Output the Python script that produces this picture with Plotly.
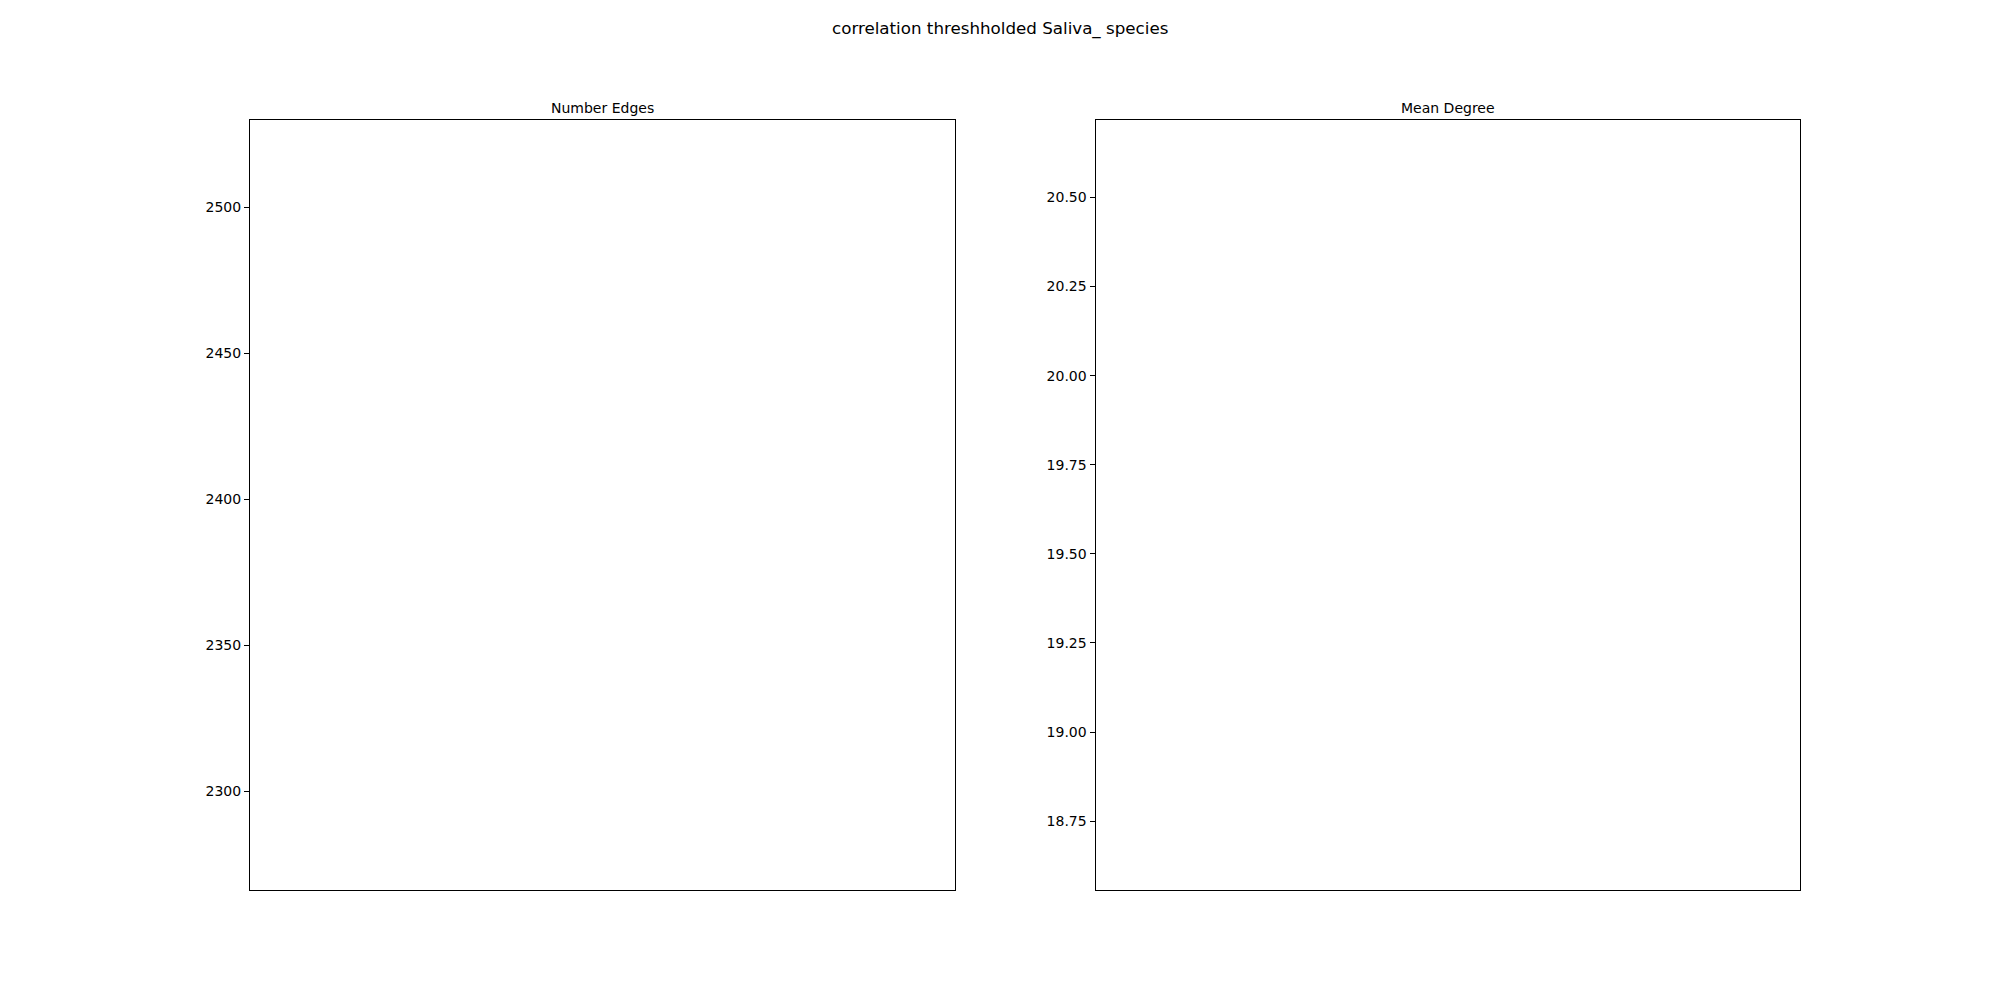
import plotly.graph_objects as go

# Data (single summary values per panel; nothing visible is drawn in the reference)
panel_titles = ["Number Edges", "Mean Degree"]
number_edges = [2398]
mean_degree = [19.637]
suptitle = "correlation threshholded Saliva_ species"

def mpl_range(vals):
    lo, hi = min(vals), max(vals)
    if lo == hi:
        d = 0.05 * abs(lo)
        lo, hi = lo - d, hi + d
    m = 0.05 * (hi - lo)
    return [lo - m, hi + m]

fig = go.Figure()
fig.add_trace(go.Scatter(x=[0] * len(number_edges), y=number_edges, mode="markers",
                         marker=dict(opacity=0), hoverinfo="skip", showlegend=False,
                         xaxis="x", yaxis="y"))
fig.add_trace(go.Scatter(x=[0] * len(mean_degree), y=mean_degree, mode="markers",
                         marker=dict(opacity=0), hoverinfo="skip", showlegend=False,
                         xaxis="x2", yaxis="y2"))

font = "DejaVu Sans"
xcommon = dict(showticklabels=False, ticks="", showgrid=False, zeroline=False,
               showline=True, mirror=True, linecolor="black", linewidth=1,
               range=[-1, 1], fixedrange=True)
ycommon = dict(showgrid=False, zeroline=False, showline=True, mirror=True,
               linecolor="black", linewidth=1, ticks="outside", ticklen=5,
               tickwidth=1, tickcolor="black",
               tickfont=dict(family=font, size=14, color="black"))

L, R, T, B = 250, 200, 120, 110
plot_w = 2000 - L - R
plot_h = 1000 - T - B
gap = 141 / plot_w
w = (1 - gap) / 2
fig.update_layout(
    width=2000, height=1000,
    margin=dict(l=L, r=R, t=T, b=B),
    paper_bgcolor="white", plot_bgcolor="white",
    xaxis=dict(domain=[0, w], anchor="y", **xcommon),
    xaxis2=dict(domain=[1 - w, 1], anchor="y2", **xcommon),
    yaxis=dict(anchor="x", range=mpl_range(number_edges), dtick=50, tick0=0, **ycommon),
    yaxis2=dict(anchor="x2", range=mpl_range(mean_degree), dtick=0.25, tick0=0,
                tickformat=".2f", **ycommon),
    showlegend=False,
)

annotations = [
    dict(text=suptitle, x=(1000 - L) / plot_w, y=1 + (T - 16) / plot_h,
         xref="paper", yref="paper", showarrow=False,
         font=dict(family=font, size=16.7, color="black"), xanchor="center", yanchor="top"),
]
for i, t in enumerate(panel_titles):
    annotations.append(dict(text=t, x=(w / 2) if i == 0 else (1 - w / 2), y=1, xref="paper",
                            yref="paper", yshift=2, showarrow=False,
                            font=dict(family=font, size=14, color="black"),
                            xanchor="center", yanchor="bottom"))
fig.update_layout(annotations=annotations)

fig.write_html("out.html")
